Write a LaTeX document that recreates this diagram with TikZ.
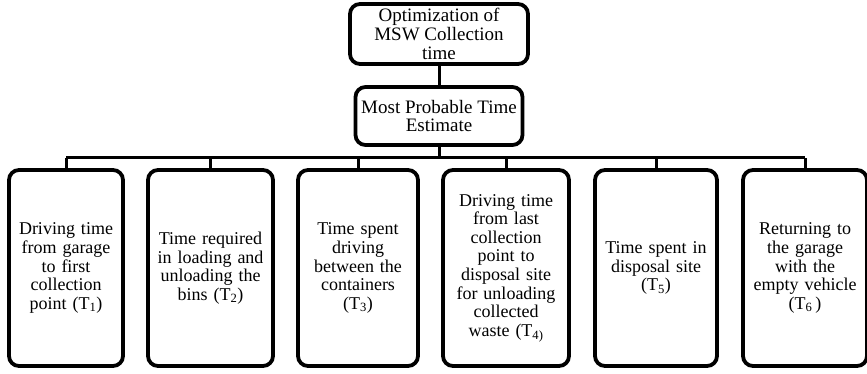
\documentclass[tikz,border=0pt]{standalone}
\usepackage{fontspec}
\setmainfont{Liberation Serif}
\usetikzlibrary{positioning}

\begin{document}
\begin{tikzpicture}[x=1pt,y=1pt,
  box/.style={draw,line width=3.8pt,rounded corners=10pt,align=center,
    inner xsep=2pt,inner ysep=0pt,font=\fontsize{18}{18.6}\selectfont},
  head/.style={box,font=\fontsize{19}{18.8}\selectfont},
  leaf/.style={box,minimum height=196pt,text width=#1},
  link/.style={line width=3pt}]
  \useasboundingbox (0,0) rectangle (867,373);
  % top of the tree
  \node[head,minimum width=178pt,minimum height=60pt] (goal) at (439,339)
    {Optimization of\\MSW Collection\\time};
  \node[head,minimum width=167pt,minimum height=58pt] (mpt) at (439,257)
    {Most Probable Time\\Estimate};
  % the six time components
  \node[leaf=110pt] (t1) at (66,105)
    {Driving time\\from garage\\to first\\collection\\point (T\textsubscript{1})};
  \node[leaf=121pt] (t2) at (210.5,105)
    {Time required\\in loading and\\unloading the\\bins (T\textsubscript{2})};
  \node[leaf=116pt] (t3) at (358,105)
    {Time spent\\driving\\between the\\containers\\(T\textsubscript{3})};
  \node[leaf=122pt] (t4) at (506,105)
    {Driving time\\from last\\collection\\point to\\disposal site\\for unloading\\collected\\waste (T\textsubscript{4)}};
  \node[leaf=118pt] (t5) at (656,105)
    {Time spent in\\disposal site\\(T\textsubscript{5})};
  \node[leaf=120pt] (t6) at (805,105)
    {Returning to\\the garage\\with the\\empty vehicle\\(T\textsubscript{6}\,)};
  \coordinate (bar) at (0,215.5);
  % connectors
  \draw[link] (goal) -- (mpt);
  \draw[link] (mpt) -- (mpt |- bar);
  \draw[link] (t1.north |- bar) -- (t6.north |- bar);
  \foreach \t in {t1,t2,t3,t4,t5,t6}
    \draw[link] (\t.north) -- (\t.north |- bar);
\end{tikzpicture}
\end{document}
